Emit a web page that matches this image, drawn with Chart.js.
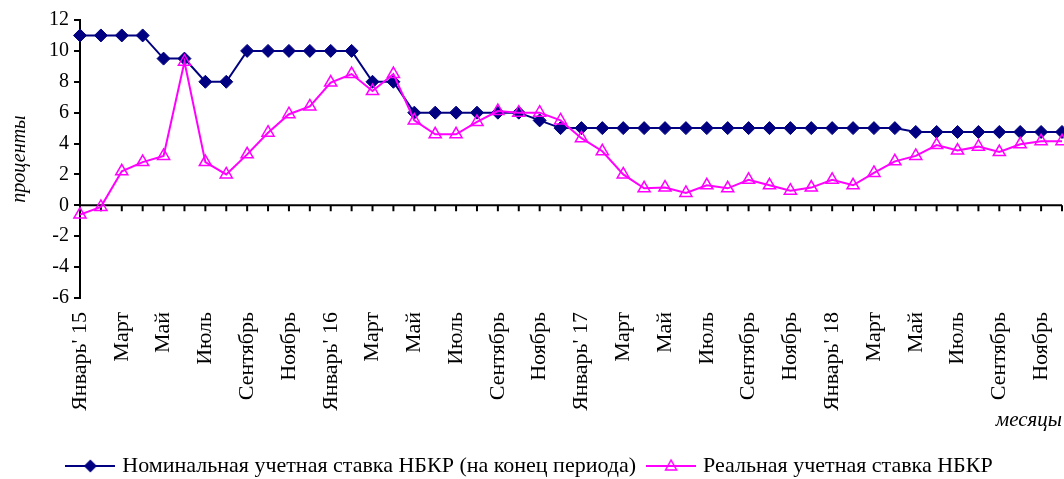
<!DOCTYPE html>
<html>
<head>
<meta charset="utf-8">
<script src="https://cdn.jsdelivr.net/npm/chart.js@4.4.1/dist/chart.umd.min.js"></script>
<style>
  html, body { margin: 0; padding: 0; background: #fff; }
  #wrap { width: 1064px; height: 479px; }
</style>
</head>
<body>
<div id="wrap"><canvas id="rateChart"></canvas></div>
<script>
// месяцы: январь 2015 - декабрь 2018
const months = [
  "Январь' 15", "Февраль", "Март", "Апрель", "Май", "Июнь", "Июль", "Август", "Сентябрь", "Октябрь", "Ноябрь", "Декабрь",
  "Январь' 16", "Февраль", "Март", "Апрель", "Май", "Июнь", "Июль", "Август", "Сентябрь", "Октябрь", "Ноябрь", "Декабрь",
  "Январь' 17", "Февраль", "Март", "Апрель", "Май", "Июнь", "Июль", "Август", "Сентябрь", "Октябрь", "Ноябрь", "Декабрь",
  "Январь' 18", "Февраль", "Март", "Апрель", "Май", "Июнь", "Июль", "Август", "Сентябрь", "Октябрь", "Ноябрь", "Декабрь"
];

const nominalRate = [
  11, 11, 11, 11, 9.5, 9.5, 8, 8, 10, 10, 10, 10,
  10, 10, 8, 8, 6, 6, 6, 6, 6, 6, 5.5, 5,
  5, 5, 5, 5, 5, 5, 5, 5, 5, 5, 5, 5,
  5, 5, 5, 5, 4.75, 4.75, 4.75, 4.75, 4.75, 4.75, 4.75, 4.75
];

const realRate = [
  -0.6, -0.1, 2.2, 2.8, 3.2, 9.3, 2.8, 2.0, 3.3, 4.7, 5.9, 6.4,
  7.95, 8.5, 7.4, 8.5, 5.5, 4.6, 4.6, 5.4, 6.1, 6.0, 6.0, 5.5,
  4.35, 3.5, 2.0, 1.1, 1.15, 0.8, 1.3, 1.1, 1.65, 1.3, 0.95, 1.15,
  1.65, 1.3, 2.1, 2.85, 3.2, 3.9, 3.55, 3.8, 3.45, 3.95, 4.15, 4.15
];

const yMin = -6;
const yMax = 12;
const yStep = 2;

const seriesNames = [
  "Номинальная учетная ставка НБКР (на конец периода)",
  "Реальная учетная ставка НБКР"
];

const NAVY = "#000080";
const PINK = "#FF00FF";
const FONT = "'Liberation Serif', 'Times New Roman', serif";

// small pictures for the legend: line with a marker in the middle
function legendIcon(color, shape) {
  const c = document.createElement("canvas");
  c.width = 50;
  c.height = 16;
  const g = c.getContext("2d");
  g.strokeStyle = color;
  g.fillStyle = color;
  g.lineWidth = 2;
  g.beginPath();
  g.moveTo(0, 8);
  g.lineTo(50, 8);
  g.stroke();
  g.beginPath();
  if (shape === "diamond") {
    g.moveTo(25, 1.5);
    g.lineTo(31.5, 8);
    g.lineTo(25, 14.5);
    g.lineTo(18.5, 8);
    g.closePath();
    g.fill();
  } else {
    g.lineWidth = 1.5;
    g.moveTo(25, 2);
    g.lineTo(30.5, 12);
    g.lineTo(19.5, 12);
    g.closePath();
    g.stroke();
  }
  return c;
}
const icons = [legendIcon(NAVY, "diamond"), legendIcon(PINK, "triangle")];

// x axis line drawn at y = 0 with month ticks pointing down
const zeroAxis = {
  id: "zeroAxis",
  beforeDatasetsDraw(chart) {
    const { ctx, scales: { x, y } } = chart;
    const y0 = y.getPixelForValue(0);
    ctx.save();
    ctx.strokeStyle = "#000";
    ctx.lineWidth = 2;
    ctx.beginPath();
    ctx.moveTo(x.left - 1, y0);
    ctx.lineTo(x.right, y0);
    months.forEach((m, i) => {
      const px = x.getPixelForValue(i);
      ctx.moveTo(px, y0);
      ctx.lineTo(px, y0 + 6);
    });
    ctx.stroke();
    ctx.restore();
  }
};

const ctx = document.getElementById("rateChart");

new Chart(ctx, {
  type: "line",
  data: {
    labels: months,
    datasets: [
      {
        label: seriesNames[0],
        data: nominalRate,
        borderColor: NAVY,
        backgroundColor: NAVY,
        borderWidth: 2,
        pointStyle: "rectRot",
        pointRadius: 6.5,
        pointBorderWidth: 1,
        pointBackgroundColor: NAVY,
        pointBorderColor: NAVY,
        tension: 0,
        clip: false,
        order: 1,
      },
      {
        label: seriesNames[1],
        data: realRate,
        borderColor: PINK,
        backgroundColor: "rgba(0,0,0,0)",
        borderWidth: 2,
        pointStyle: "triangle",
        pointRadius: 7,
        pointBorderWidth: 1.5,
        pointBackgroundColor: "rgba(0,0,0,0)",
        pointBorderColor: PINK,
        tension: 0,
        clip: false,
        order: 0,
      },
    ],
  },
  options: {
    responsive: true,
    maintainAspectRatio: false,
    animation: false,
    layout: { autoPadding: false, padding: { top: 20, right: 2, left: 0, bottom: -8 } },
    plugins: {
      tooltip: { enabled: false },
      legend: {
        position: "bottom",
        labels: {
          usePointStyle: true,
          pointStyleWidth: 42,
          padding: 14,
          color: "#000",
          font: { family: FONT, size: 22 },
          generateLabels: (chart) =>
            chart.data.datasets.map((ds, i) => ({
              text: ds.label,
              pointStyle: icons[i],
              datasetIndex: i,
              fontColor: "#000",
              fillStyle: "rgba(0,0,0,0)",
              strokeStyle: "rgba(0,0,0,0)",
              lineWidth: 0,
              hidden: false,
            })),
        },
      },
    },
    scales: {
      x: {
        offset: false,
        border: { display: false },
        grid: { display: false, drawTicks: false },
        ticks: {
          autoSkip: false,
          minRotation: 90,
          maxRotation: 90,
          padding: 14,
          color: "#000",
          font: { family: FONT, size: 22 },
          callback: (v, i) => (i % 2 === 0 ? months[i] : ""),
        },
        title: {
          display: true,
          text: "месяцы",
          align: "end",
          color: "#000",
          font: { family: FONT, size: 21, style: "italic" },
          padding: { top: 4, bottom: 8 },
        },
        afterFit: (scale) => {
          scale.height = 143;
          scale.paddingLeft = 0;
          scale.paddingRight = 0;
        },
      },
      y: {
        min: yMin,
        max: yMax,
        border: { display: true, color: "#000", width: 2 },
        grid: { drawOnChartArea: false, color: "#000", lineWidth: 2, tickLength: 6 },
        ticks: {
          stepSize: yStep,
          padding: 5,
          color: "#000",
          font: { family: FONT, size: 20 },
        },
        title: {
          display: true,
          text: "проценты",
          color: "#000",
          font: { family: FONT, size: 20, style: "italic" },
          padding: { top: 8, bottom: 4 },
        },
        afterFit: (scale) => { scale.width = 80; },
      },
    },
  },
  plugins: [zeroAxis],
});
</script>
</body>
</html>
